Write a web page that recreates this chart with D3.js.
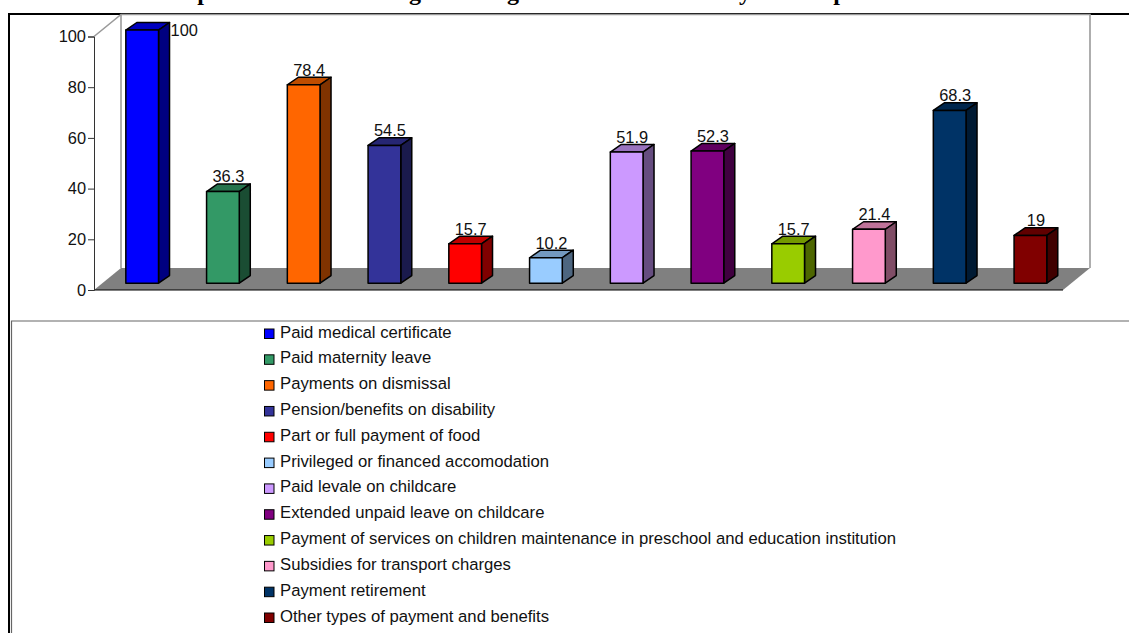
<!DOCTYPE html>
<html>
<head>
<meta charset="utf-8">
<style>html,body{margin:0;padding:0;background:#fff;overflow:hidden}svg{display:block}text{font-family:"Liberation Sans",Arial,sans-serif}</style>
<script src="https://cdn.jsdelivr.net/npm/d3@7/dist/d3.min.js"></script>
</head>
<body>
<script>
const categories = ["Paid medical certificate","Paid maternity leave","Payments on dismissal","Pension/benefits on disability","Part or full payment of food","Privileged or financed accomodation","Paid levale on childcare","Extended unpaid leave on childcare","Payment of services on children maintenance in preschool and education institution","Subsidies for transport charges","Payment retirement","Other types of payment and benefits"];
const values = [100,36.3,78.4,54.5,15.7,10.2,51.9,52.3,15.7,21.4,68.3,19];
const colors = ["#0000ff","#339966","#ff6600","#333399","#ff0000","#99ccff","#cc99ff","#800080","#99cc00","#ff99cc","#003366","#800000"];
const yTicks = [0,20,40,60,80,100];
const titleClipped = ["p","g","g","y","p"];

const W = 1129, H = 633;
const depthX = 27, depthY = 22;      // wall / floor depth
const barDX = 11, barDY = 7.6;       // bar depth
const floorLift = 6.4;               // bars stand this far behind the front floor edge
const left = 94, right = 1063, base = 290, top100 = 36.5;

const svg = d3.select("body").append("svg").attr("width", W).attr("height", H);
const y = d3.scaleLinear().domain([0,100]).range([base, top100]);
const x = d3.scaleBand().domain(d3.range(categories.length)).range([left+7.8, right+7.8]).paddingInner(0.595).paddingOuter(0.2975);
const shade = (c,k) => { const r = d3.rgb(c); return d3.rgb(r.r*k, r.g*k, r.b*k).formatHex(); };

// clipped title: only descenders are visible above the frame
const titleX = d3.scaleOrdinal().domain(d3.range(5)).range([204,415,513,745,840]);
svg.append("g").selectAll("text").data(titleClipped).join("text")
  .attr("x",(d,i)=>titleX(i)).attr("y",0).attr("text-anchor","middle")
  .style("font-family",'"Liberation Serif",serif').style("font-weight","bold").style("font-size","24px").text(d=>d);

// outer frame
svg.append("path").attr("d",`M9,633V14H${W}`).attr("fill","none").attr("stroke","#000").attr("stroke-width",2);

// walls
const wallTop = top100 - depthY;
svg.append("path").attr("d",`M${left},${y(100)}L${left+depthX},${wallTop}H${right+depthX}V${base-depthY}`)
  .attr("fill","none").attr("stroke","#9a9a9a").attr("stroke-width",1.6);
svg.append("path").attr("d",`M${left+depthX},${wallTop}V${base-depthY}`).attr("fill","none").attr("stroke","#9a9a9a").attr("stroke-width",1.6);
// floor
svg.append("path").attr("d",`M${left},${base}L${left+depthX},${base-depthY}H${right+depthX}L${right},${base}Z`).attr("fill","#808080");
svg.append("line").attr("x1",left).attr("x2",right).attr("y1",base).attr("y2",base).attr("stroke","#000");

// axis
const axis = d3.axisLeft(y).tickValues(yTicks).tickSize(6).tickPadding(2);
const gAxis = svg.append("g").attr("transform",`translate(${left},0)`).call(axis);
gAxis.select(".domain").attr("stroke","#333");
gAxis.selectAll("line").attr("stroke","#333");
gAxis.selectAll("text").style("font-size","16.4px").attr("fill","#111").attr("font-family",null);

// data labels, drawn behind bars
svg.append("g").selectAll("text").data(values).join("text")
  .attr("x",(d,i)=> d>=100 ? x(i)+x.bandwidth()+barDX+1 : x(i)+x.bandwidth()/2+5.5)
  .attr("y",d=> d>=100 ? y(d)-floorLift+5.5 : y(d)-floorLift-9.2)
  .attr("text-anchor",d=> d>=100 ? "start":"middle")
  .style("font-size","16.4px").attr("fill","#111").text(d=>d);

// bars
const gb = svg.append("g").attr("stroke","#000").attr("stroke-width",1.5).attr("stroke-linejoin","round");
values.forEach((v,i)=>{
  const x0 = x(i), x1 = x0 + x.bandwidth(), yt = y(v)-floorLift, yb = y(0)-floorLift-0.4;
  gb.append("path").attr("d",`M${x0},${yt}L${x0+barDX},${yt-barDY}H${x1+barDX}L${x1},${yt}Z`).attr("fill",shade(colors[i],0.75));
  gb.append("path").attr("d",`M${x1},${yt}L${x1+barDX},${yt-barDY}V${yb-barDY}L${x1},${yb}Z`).attr("fill",shade(colors[i],0.5));
  gb.append("rect").attr("x",x0).attr("y",yt).attr("width",x.bandwidth()).attr("height",yb-yt).attr("fill",colors[i]);
});

// legend
svg.append("path").attr("d",`M11.5,633V321H${W}`).attr("fill","none").attr("stroke","#666").attr("stroke-width",1.2);
const ly = d3.scalePoint().domain(d3.range(categories.length)).range([333.5,617.5]);
const gl = svg.append("g");
categories.forEach((c,i)=>{
  gl.append("rect").attr("x",264.5).attr("y",ly(i)-4.5).attr("width",9.5).attr("height",9.5).attr("fill",colors[i]).attr("stroke","#000").attr("stroke-width",1);
  gl.append("text").attr("x",280).attr("y",ly(i)+4).style("font-size","16.7px").attr("fill","#111").text(c);
});
</script>
</body>
</html>
